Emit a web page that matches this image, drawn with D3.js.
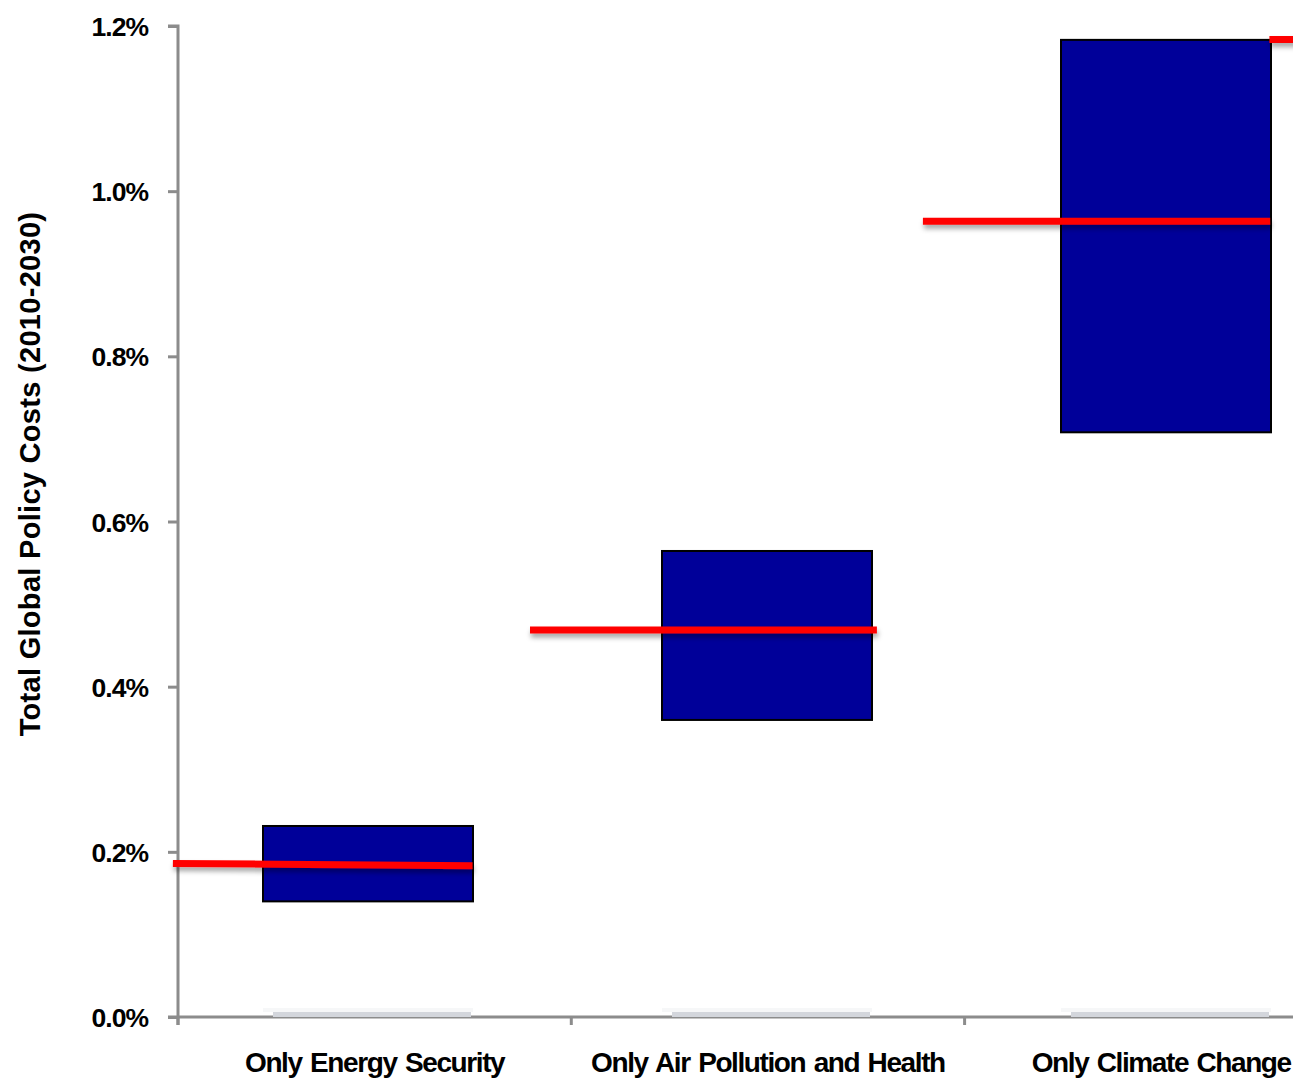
<!DOCTYPE html>
<html>
<head>
<meta charset="utf-8">
<script src="https://cdn.jsdelivr.net/npm/d3@7"></script>
<style>
  html, body { margin: 0; padding: 0; background: #fff; }
  svg { display: block; }
  text { font-family: "Liberation Sans", Arial, sans-serif; font-weight: bold; fill: #000; }
</style>
</head>
<body>
<svg id="chart" width="1293" height="1078"></svg>
<script>
// Policy scenarios and their cost ranges (% of GDP, 2010-2030)
const categories = ["Only Energy Security", "Only Air Pollution and Health", "Only Climate Change"];
const rangeLow  = [0.1400, 0.3597, 0.7080];
const rangeHigh = [0.2313, 0.5643, 1.1832];

// Reference cost lines: value at segment start / end, and extent in category units
const refStart = [0.1860, 0.4686, 0.9636, 1.1837];
const refEnd   = [0.1831, 0.4686, 0.9636, 1.1837];
const refFrom  = [-0.013, 0.895, 1.894, 2.775];
const refTo    = [0.749, 1.777, 2.777, 3.2];

const yTicks = [0, 0.2, 0.4, 0.6, 0.8, 1.0, 1.2];
const yTitle = "Total Global Policy Costs (2010-2030)";

const svg = d3.select("#chart");
const W = 1293, H = 1078;
const plotLeft = 178, plotTop = 26, plotBottom = 1017;
const bandW = 393.3;

// category axis (continuous, one unit per category)
const x = d3.scaleLinear().domain([0, categories.length]).range([plotLeft, plotLeft + bandW * categories.length]);
// bar placement
const xBar = d3.scaleBand().domain(categories).range([263, 1271]).paddingInner(0.4737).paddingOuter(0).align(0);
const y = d3.scaleLinear().domain([0, 1.2]).range([plotBottom, plotTop]);

// shadow under the red lines
const defs = svg.append("defs");
const f = defs.append("filter").attr("id", "shadow")
  .attr("filterUnits", "userSpaceOnUse").attr("x", 0).attr("y", 0).attr("width", W).attr("height", H);
f.append("feDropShadow").attr("dx", 1).attr("dy", 4).attr("stdDeviation", 2.5).attr("flood-color", "#000").attr("flood-opacity", 0.35);

const axisColor = "#8c8c8c";

// y axis
const yAxis = svg.append("g").attr("transform", `translate(${plotLeft},0)`)
  .call(d3.axisLeft(y).tickValues(yTicks).tickSize(10).tickFormat(d => d.toFixed(1) + "%"));
yAxis.attr("font-family", null).attr("font-size", null);
yAxis.select(".domain").attr("stroke", axisColor).attr("stroke-width", 3).attr("d", `M-10,${plotTop}H0V${plotBottom + 8}`);
yAxis.selectAll(".tick line").attr("stroke", axisColor).attr("stroke-width", 3);
yAxis.selectAll(".tick text")
  .attr("x", -30).attr("dy", "0.36em")
  .style("font-size", "26.5px").style("letter-spacing", "-1px");

// x axis: ticks at category boundaries, labels at centres
const xAxis = svg.append("g").attr("transform", `translate(0,${plotBottom})`);
xAxis.append("line").attr("x1", plotLeft - 10).attr("x2", W).attr("stroke", axisColor).attr("stroke-width", 3);
xAxis.selectAll("line.tk").data(d3.range(categories.length)).join("line").attr("class", "tk")
  .attr("x1", d => x(d)).attr("x2", d => x(d)).attr("y1", 0).attr("y2", 8)
  .attr("stroke", axisColor).attr("stroke-width", 3);

// faint base bars sitting on the axis
svg.append("g").selectAll("rect").data(categories).join("rect")
  .attr("x", d => xBar(d) + 10).attr("width", xBar.bandwidth() - 12)
  .attr("y", plotBottom - 5).attr("height", 5)
  .attr("fill", "#d3d6dc");
svg.append("g").selectAll("rect").data(categories).join("rect")
  .attr("x", d => xBar(d)).attr("width", xBar.bandwidth())
  .attr("y", plotBottom - 9).attr("height", 4)
  .attr("fill", "#f6f7f8");

xAxis.selectAll("text").data(categories).join("text")
  .attr("x", (d, i) => x(i + 0.5)).attr("y", 55)
  .attr("text-anchor", "middle")
  .style("font-size", "28px").style("letter-spacing", "-1.4px").style("word-spacing", "2px")
  .text(d => d);

// floating range bars
svg.append("g").selectAll("rect").data(categories).join("rect")
  .attr("x", d => xBar(d))
  .attr("width", xBar.bandwidth())
  .attr("y", (d, i) => y(rangeHigh[i]))
  .attr("height", (d, i) => y(rangeLow[i]) - y(rangeHigh[i]))
  .attr("fill", "#000099").attr("stroke", "#000").attr("stroke-width", 2);

// red reference segments
svg.append("g").attr("filter", "url(#shadow)")
  .selectAll("line").data(refStart).join("line")
  .attr("x1", (d, i) => x(refFrom[i])).attr("x2", (d, i) => x(refTo[i]))
  .attr("y1", (d, i) => y(refStart[i])).attr("y2", (d, i) => y(refEnd[i]))
  .attr("stroke", "#ff0000").attr("stroke-width", 7);

// y axis title
svg.append("text")
  .attr("transform", `translate(40,${(210 + 738) / 2}) rotate(-90)`)
  .attr("text-anchor", "middle")
  .style("font-size", "29px").style("letter-spacing", "0.3px")
  .text(yTitle);
</script>
</body>
</html>
